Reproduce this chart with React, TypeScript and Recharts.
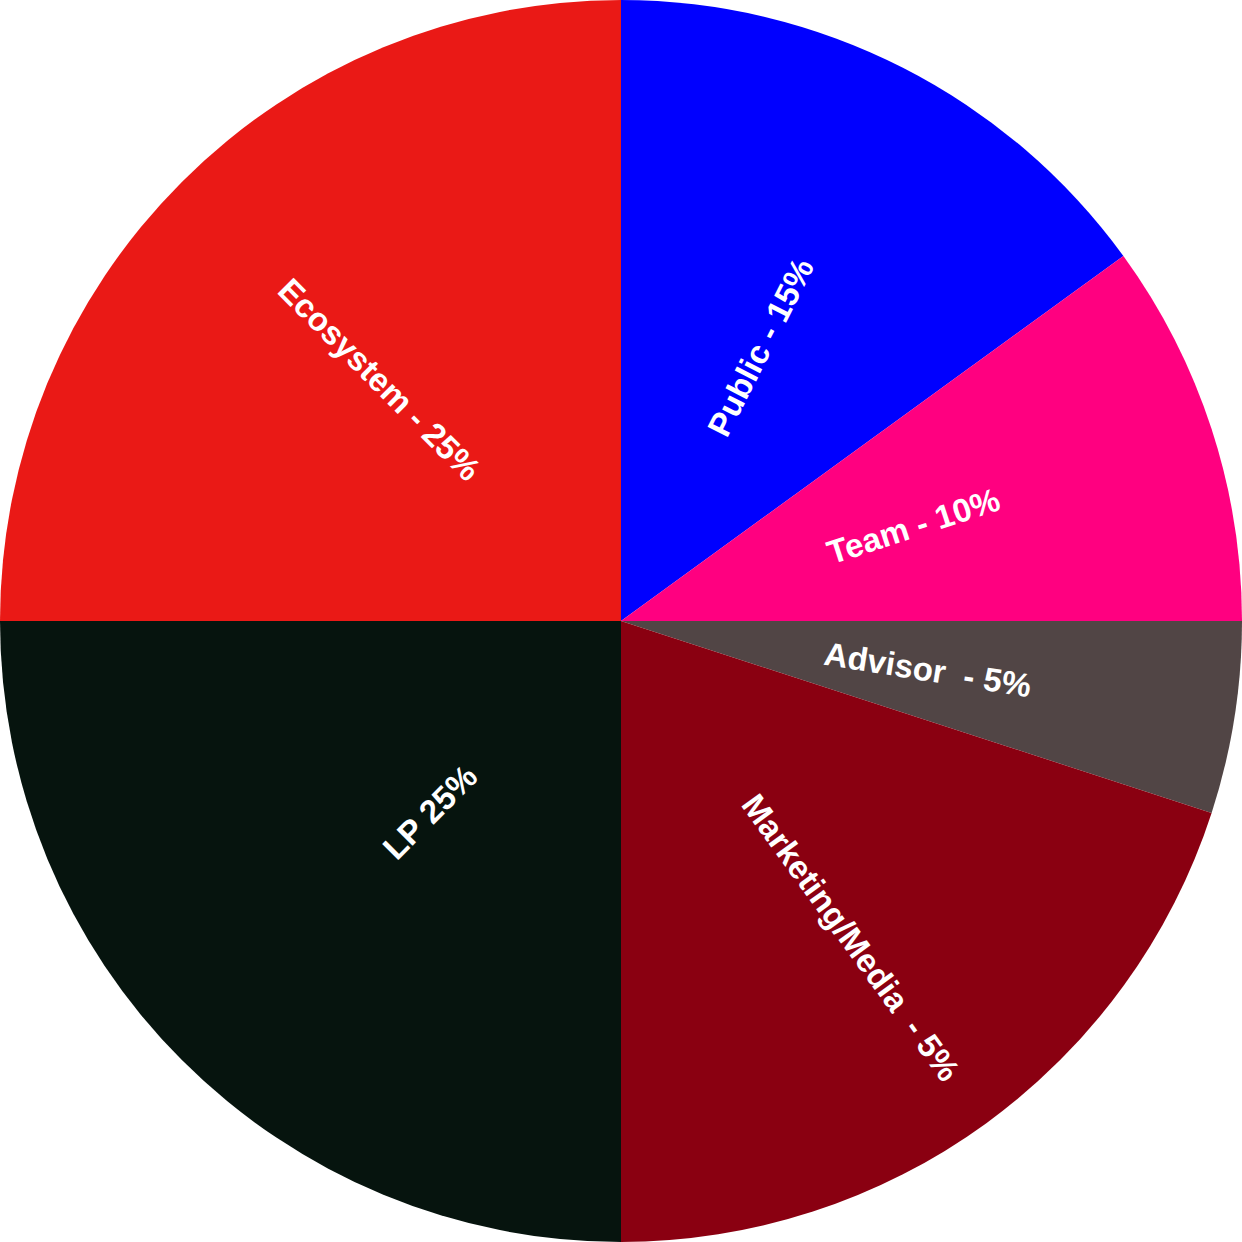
import { Cell, Pie, PieChart } from "recharts";

const categories = ["Public", "Team", "Advisor", "Marketing/Media", "LP", "Ecosystem"];
const shares = [15, 10, 5, 20, 25, 25];
const labels = ["Public - 15%", "Team - 10%", "Advisor  - 5%", "Marketing/Media  - 5%", "LP 25%", "Ecosystem - 25%"];

const colors = ["#0000ff", "#ff0080", "#514545", "#8a0011", "#06140e", "#ea1916"];
// how far out (fraction of radius) each label sits
const labelPos = [0.495, 0.495, 0.5, 0.63, 0.435, 0.55];

const data = categories.map((name, i) => ({ name, value: shares[i], label: labels[i] }));

const RAD = Math.PI / 180;

function SliceLabel(props: any) {
  const { cx, cy, midAngle, outerRadius, index } = props;
  const r = outerRadius * labelPos[index];
  const x = cx + r * Math.cos(-midAngle * RAD);
  const y = cy + r * Math.sin(-midAngle * RAD);
  let rot = -midAngle;
  if (Math.cos(midAngle * RAD) < 0) rot += 180;
  return (
    <text
      x={x}
      y={y}
      fill="#fff"
      textAnchor="middle"
      dominantBaseline="central"
      transform={`rotate(${rot} ${x} ${y})`}
      style={{ fontFamily: "'Liberation Sans', Arial, sans-serif", fontWeight: 700, fontSize: 33, whiteSpace: "pre" }}
    >
      {data[index].label}
    </text>
  );
}

export default function App() {
  return (
    <div style={{ position: "absolute", left: 0, top: 0, width: 1242, height: 1242 }}>
      <PieChart width={1242} height={1242} margin={{ top: 0, right: 0, bottom: 0, left: 0 }}>
        <Pie
          data={data}
          dataKey="value"
          nameKey="name"
          cx={621}
          cy={621}
          outerRadius={621}
          startAngle={90}
          endAngle={-270}
          stroke="none"
          label={SliceLabel}
          labelLine={false}
          isAnimationActive={false}
        >
          {data.map((d, i) => (
            <Cell key={d.name} fill={colors[i]} />
          ))}
        </Pie>
      </PieChart>
    </div>
  );
}
